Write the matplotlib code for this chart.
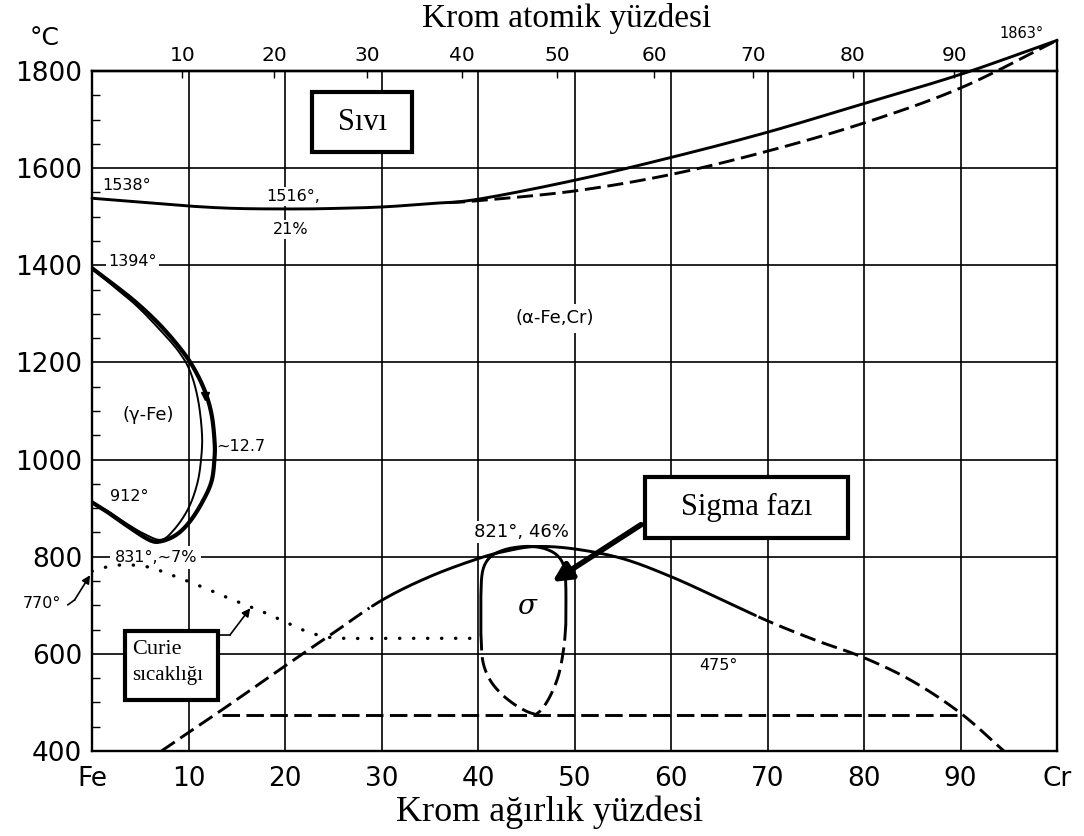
import matplotlib
matplotlib.use("Agg")
import matplotlib.pyplot as plt
from matplotlib.patches import Rectangle
from matplotlib.ticker import MultipleLocator
import numpy as np

# ---------------- data (weight % Cr, temperature °C) ----------------
x_ticks = [0, 10, 20, 30, 40, 50, 60, 70, 80, 90, 100]
x_labels = ["Fe", "10", "20", "30", "40", "50", "60", "70", "80", "90", "Cr"]
y_ticks = [400, 600, 800, 1000, 1200, 1400, 1600, 1800]
at_ticks = [10, 20, 30, 40, 50, 60, 70, 80, 90]

liq_x = [0, 5, 10, 15, 21, 25, 30, 35, 40, 50, 60, 70, 80, 90, 100]
liq_T = [1538, 1530, 1522, 1517, 1516, 1517, 1520, 1527, 1536, 1575, 1622, 1674, 1733, 1793, 1863]
sol_x = [37, 40, 50, 60, 70, 80, 90, 100]
sol_T = [1529, 1533, 1553, 1587, 1635, 1693, 1765, 1863]

gam_out_x = [0, 2.2, 4.6, 7.0, 9.1, 10.5, 11.7, 12.4, 12.7, 12.7, 12.4, 11.5, 10.2, 8.8, 7.2, 6.0, 3.9, 1.9, 0]
gam_out_T = [1394, 1361, 1323, 1278, 1230, 1190, 1141, 1092, 1038, 1004, 956, 915, 874, 846, 832, 834, 860, 888, 912]
gam_in_x = [0, 2.2, 4.6, 7.0, 9.0, 10.2, 11.0, 11.4, 11.3, 10.9, 10.0, 8.6, 7.2, 5.5, 3.6, 1.8, 0]
gam_in_T = [1394, 1357, 1317, 1268, 1222, 1180, 1122, 1052, 1000, 950, 900, 858, 835, 846, 868, 892, 912]

dome_x = [7.2, 10, 14, 20, 25, 30, 35, 40, 43, 46, 50, 55, 60, 65, 70, 75, 80, 85, 90, 94.5]
dome_T = [400, 438, 492, 575, 643, 710, 759, 796, 812, 821, 816, 796, 759, 714, 668, 628, 592, 544, 478, 400]
dome_solid = (29, 69)

sig_sol_x = [40.3, 40.3, 40.5, 41.3, 42.7, 44.2, 45.6, 47.0, 48.2, 48.9, 49.1, 49.1]
sig_sol_T = [640, 720, 772, 800, 814, 820, 821, 816, 803, 780, 740, 660]
sig_dl_x = [40.3, 40.5, 41.2, 42.3, 43.7, 45.0, 46.0]
sig_dl_T = [640, 585, 548, 520, 497, 482, 475]
sig_dr_x = [49.1, 48.9, 48.4, 47.6, 46.7, 46.0]
sig_dr_T = [660, 614, 560, 518, 488, 475]

curie_x = [0, 2, 4, 6, 8, 10, 12, 14, 16, 18, 20, 22, 24, 26, 30, 35, 40]
curie_T = [770, 781, 783, 778, 764, 749, 733, 716, 700, 684, 666, 648, 636, 632, 632, 632, 632]

t475_x = [13.5, 90]
t475_T = [475, 475]

M_CR, M_FE = 52.00, 55.85


def wt_to_at(w):
    w = np.asarray(w, dtype=float)
    return 100 * (w / M_CR) / (w / M_CR + (100 - w) / M_FE)


def at_to_wt(a):
    a = np.asarray(a, dtype=float)
    return 100 * (a * M_CR) / (a * M_CR + (100 - a) * M_FE)


def smooth(xs, ys, n=16):
    """Draw helper: Catmull-Rom path through the read points."""
    p = np.column_stack([xs, ys]).astype(float)
    sc = np.array([9.65, 0.4857])
    q = p * sc
    q = np.vstack([2 * q[0] - q[1], q, 2 * q[-1] - q[-2]])
    out = []
    for i in range(1, len(q) - 2):
        p0, p1, p2, p3 = q[i - 1], q[i], q[i + 1], q[i + 2]
        t = np.linspace(0, 1, n, endpoint=False)[:, None]
        seg = 0.5 * ((2 * p1) + (-p0 + p2) * t + (2 * p0 - 5 * p1 + 4 * p2 - p3) * t ** 2
                     + (-p0 + 3 * p1 - 3 * p2 + p3) * t ** 3)
        out.append(seg)
    out.append(q[-2][None, :])
    r = np.vstack(out) / sc
    return r[:, 0], r[:, 1]


# ---------------- figure ----------------
W, H = 1084, 836
fig = plt.figure(figsize=(W / 100, H / 100), dpi=100)
ax = fig.add_axes([92 / W, 85 / H, 965 / W, 680 / H])
ax.set_xlim(0, 100)
ax.set_ylim(400, 1800)

for s in ax.spines.values():
    s.set_linewidth(1.7)

ax.set_xticks(x_ticks)
ax.set_xticklabels(x_labels)
ax.set_yticks(y_ticks)
ax.tick_params(axis="both", which="major", length=0, labelsize=19)
ax.tick_params(axis="x", pad=11)
ax.tick_params(axis="y", pad=7)
ax.yaxis.set_minor_locator(MultipleLocator(50))
ax.tick_params(axis="y", which="minor", direction="in", length=6, width=1)
ax.grid(True, color="black", lw=1.2, zorder=1)
ax.set_axisbelow(True)

sec = ax.secondary_xaxis("top", functions=(wt_to_at, at_to_wt))
sec.set_xticks(at_ticks)
sec.set_xticklabels([str(v) for v in at_ticks])
sec.tick_params(direction="in", length=5, width=1, labelsize=14.5, pad=4)
sec.spines["top"].set_linewidth(1.7)

LW = 2.1
k = dict(color="black", zorder=4, solid_capstyle="round")
dash = (0, (5.5, 2.3))

# liquidus / solidus (extend above frame)
ax.plot(*smooth(liq_x, liq_T), lw=LW, clip_on=False, **k)
ax.plot(*smooth(sol_x, sol_T), lw=LW, ls=dash, clip_on=False, color="black", zorder=4)
ax.plot([100, 100], [1800, 1863], lw=1.7, clip_on=False, color="black")

# gamma loop
ax.plot(*smooth(gam_out_x, gam_out_T), lw=3.0, **k)
ax.plot(*smooth(gam_in_x, gam_in_T), lw=1.4, **k)
ax.plot(11.75, 1130, marker="v", ms=6, color="black", zorder=5)

# alpha / alpha' dome: one smooth curve, solid in the middle, dashed at both ends
dx, dT = smooth(dome_x, dome_T)
lo, hi = dome_solid
m_left = dx <= lo
m_mid = (dx >= lo) & (dx <= hi)
m_right = dx >= hi
ax.plot(dx[m_left], dT[m_left], lw=LW, ls=dash, color="black", zorder=4)
ax.plot(dx[m_mid], dT[m_mid], lw=LW, **k)
ax.plot(dx[m_right], dT[m_right], lw=LW, ls=dash, color="black", zorder=4)

# sigma
ax.plot(*smooth(sig_sol_x, sig_sol_T), lw=LW, **k)
ax.plot(*smooth(sig_dl_x, sig_dl_T), lw=LW, ls=dash, color="black", zorder=4)
ax.plot(*smooth(sig_dr_x, sig_dr_T), lw=LW, ls=dash, color="black", zorder=4)

# 475 line
ax.plot(t475_x, t475_T, lw=LW, ls=(0, (6, 2.2)), color="black", zorder=4)

# Curie line
ax.plot(*smooth(curie_x, curie_T), lw=2.4, ls=(0, (0.1, 4.1)), dash_capstyle="round",
        color="black", zorder=4)

# ---------------- labels ----------------
wb = dict(facecolor="white", edgecolor="none", pad=1.5)
lab = dict(ha="center", va="center", fontsize=11.5, color="black", zorder=2.5)
ax.text(3.6, 1565, "1538°", **lab)
ax.text(20.8, 1541, "1516°,", bbox=wb, **lab)
ax.text(20.6, 1473, "21%", bbox=wb, **lab)
ax.text(4.2, 1408, "1394°", bbox=wb, **lab)
ax.text(48.0, 1291, "(α-Fe,Cr)", bbox=dict(facecolor="white", edgecolor="none", pad=4),
        **dict(lab, fontsize=13))
ax.text(5.8, 1092, "(γ-Fe)", **dict(lab, fontsize=13))
ax.text(15.4, 1026, "~12.7", **lab)
ax.text(3.9, 923, "912°", **lab)
ax.text(6.6, 798, "831°,~7%", bbox=dict(facecolor="white", edgecolor="none", pad=3), **lab)
ax.text(-5.2, 703, "770°", clip_on=False, **lab)
ax.text(44.5, 851, "821°, 46%", bbox=wb, **dict(lab, fontsize=13))
ax.text(45.0, 697, "σ", **dict(lab, fontsize=20, family="DejaVu Serif", style="italic"))
ax.text(64.9, 575, "475°", **lab)
ax.text(96.3, 1878, "1863°", clip_on=False, **dict(lab, fontsize=10.5))

fig.text(45 / W, 1 - 38 / H, "°C", ha="center", va="center", fontsize=18)

serif = "Liberation Serif"
fig.text(567 / W, 1 - 18 / H, "Krom atomik yüzdesi", ha="center", va="center",
         fontsize=24, family=serif)
fig.text(550 / W, 1 - 812 / H, "Krom ağırlık yüzdesi", ha="center", va="center",
         fontsize=26, family=serif)

# boxes
box = dict(facecolor="white", edgecolor="black", lw=3, zorder=6, clip_on=False)
ax.add_patch(Rectangle((22.8, 1633), 10.4, 124, **box))
ax.text(28.0, 1695, "Sıvı", ha="center", va="center", fontsize=22, family=serif, zorder=7)

ax.add_patch(Rectangle((57.3, 839), 21.0, 125, **box))
ax.text(67.8, 901, "Sigma fazı", ha="center", va="center", fontsize=22, family=serif, zorder=7)

ax.add_patch(Rectangle((3.4, 506), 9.7, 142, **box))
ax.text(4.2, 610, "Curie", ha="left", va="center", fontsize=16, family=serif, zorder=7)
ax.text(4.2, 556, "sıcaklığı", ha="left", va="center", fontsize=15, family=serif, zorder=7)

# arrows
ax.annotate("", xy=(47.7, 748), xytext=(56.9, 866),
            arrowprops=dict(arrowstyle="-|>", lw=4, mutation_scale=28, color="black",
                            shrinkA=0, shrinkB=0), zorder=5)
ax.plot([13.1, 14.3], [639, 639], color="black", lw=1.2, zorder=5)
ax.annotate("", xy=(16.4, 694), xytext=(14.3, 639),
            arrowprops=dict(arrowstyle="-|>", lw=1.2, mutation_scale=12, color="black",
                            shrinkA=0, shrinkB=0), zorder=5)
ax.plot([-2.5, -1.8], [701, 711], color="black", lw=1.2, clip_on=False, zorder=5)
ax.annotate("", xy=(-0.2, 762), xytext=(-1.8, 711), annotation_clip=False,
            arrowprops=dict(arrowstyle="-|>", lw=1.2, mutation_scale=12, color="black",
                            shrinkA=0, shrinkB=0), zorder=5)

fig.savefig("out.png", dpi=100)
